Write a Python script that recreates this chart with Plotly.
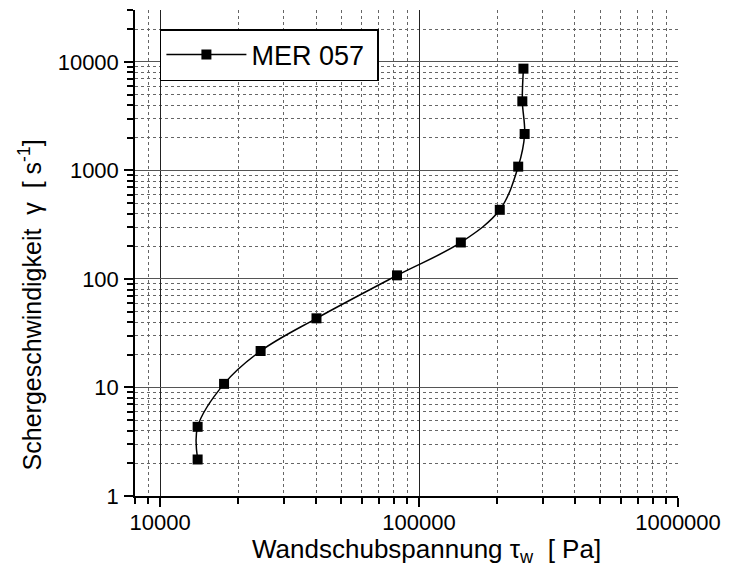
import plotly.graph_objects as go

# Data
tau_w = [13960, 13960, 17660, 24440, 40170, 82200, 145000, 205000, 241500, 255700, 250500, 253000]
gamma = [2.17, 4.34, 10.8, 21.7, 43.4, 108, 217, 434, 1085, 2170, 4340, 8680]
series_name = "MER 057"

x_tickvals = [10000, 100000, 1000000]
x_ticktext = ["10000", "100000", "1000000"]
y_tickvals = [1, 10, 100, 1000, 10000]
y_ticktext = ["1", "10", "100", "1000", "10000"]

FONT = "Liberation Sans, Arial, sans-serif"

fig = go.Figure()
fig.add_trace(go.Scatter(
    x=tau_w, y=gamma, name=series_name + " ", mode="lines+markers",
    line=dict(color="black", width=1.5, shape="spline", smoothing=1),
    marker=dict(symbol="square", size=10, color="black"),
))

minor_style = dict(dtick="D1", ticks="outside", ticklen=6, tickwidth=1.5, tickcolor="black",
                   showgrid=True, gridcolor="#666666", griddash="dot", gridwidth=1)

fig.update_layout(
    width=731, height=572,
    margin=dict(l=135, r=51, t=10, b=76),
    paper_bgcolor="white", plot_bgcolor="white",
    font=dict(family=FONT, color="black", size=21),
    showlegend=True,
    legend=dict(
        x=(160 - 135) / 545, y=(496 - 29) / 486, xanchor="left", yanchor="top",
        bgcolor="white", bordercolor="black", borderwidth=1.5,
        font=dict(size=27, family=FONT, color="black"),
        itemwidth=80,
    ),
    xaxis=dict(
        type="log", range=[3.903, 6.0],
        tickvals=x_tickvals, ticktext=x_ticktext,
        ticks="outside", ticklen=9, tickwidth=1.5, tickcolor="black",
        showline=True, linecolor="black", linewidth=1.5,
        showgrid=True, gridcolor="#222222", gridwidth=1,
        zeroline=False,
        tickfont=dict(size=22),
        ticklabelstandoff=-3,
        minor=minor_style,
    ),
    yaxis=dict(
        type="log", range=[0, 4.479],
        tickvals=y_tickvals, ticktext=y_ticktext,
        ticks="outside", ticklen=9, tickwidth=1.5, tickcolor="black",
        showline=True, linecolor="black", linewidth=1.5,
        showgrid=True, gridcolor="#555555", gridwidth=1,
        zeroline=False,
        tickfont=dict(size=22),
        ticklabelstandoff=1,
        minor=minor_style,
    ),
    annotations=[
        dict(text="Wandschubspannung τ<sub>w</sub>  [ Pa]", xref="paper", yref="paper",
             x=(428 - 135) / 545, y=-(550 - 496) / 486, xanchor="center", yanchor="middle",
             showarrow=False, font=dict(size=26, family=FONT, color="black")),
        dict(text="Schergeschwindigkeit  γ  [ s<sup>-1</sup>]", xref="paper", yref="paper",
             x=-(135 - 30) / 545, y=(496 - 305) / 486, xanchor="center", yanchor="middle",
             textangle=-90, showarrow=False, font=dict(size=25, family=FONT, color="black")),
    ],
)

fig.write_html("out.html")
